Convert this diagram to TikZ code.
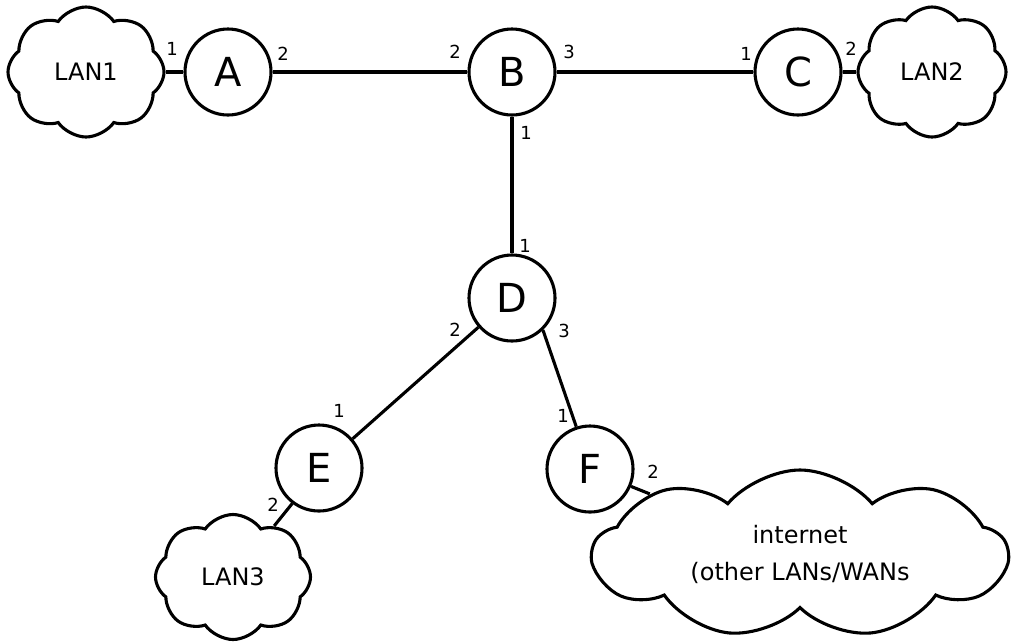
\documentclass[tikz,border=0pt]{standalone}
\usepackage{fontspec}
\setmainfont{DejaVu Sans}
\usetikzlibrary{shapes.symbols}

\begin{document}
\begin{tikzpicture}[x=1pt, y=-1pt, line width=3.1pt,
  router/.style={circle, draw, minimum size=86pt, inner sep=0pt, font=\fontsize{40}{48}\selectfont},
  lan/.style={cloud, draw, cloud puffs=8, cloud puff arc=110, cloud ignores aspect, inner sep=0pt, align=center, font=\fontsize{24}{37}\selectfont},
  port/.style={inner sep=0pt, font=\fontsize{18}{21}\selectfont}]
\useasboundingbox (0,0) rectangle (1011,641);

% routers
\node[router] (A) at (228,72) {A};
\node[router] (B) at (512,72) {B};
\node[router] (C) at (798,72) {C};
\node[router] (D) at (512,298) {D};
\node[router] (E) at (319,468) {E};
\node[router] (F) at (590,469) {F};

% networks
\node[lan, minimum width=156pt, minimum height=130pt] (lan1) at (86,72) {LAN1};
\node[lan, minimum width=148pt, minimum height=130pt] (lan2) at (932,72) {LAN2};
\node[lan, minimum width=155pt, minimum height=125pt] (lan3) at (233,577) {LAN3};
\node[lan, minimum width=414pt, minimum height=168pt, cloud puffs=9, cloud puff arc=100] (inet) at (800,554) {internet\\(other LANs/WANs};

% links
\draw (lan1) -- (A);
\draw (A) -- (B);
\draw (B) -- (C);
\draw (C) -- (lan2);
\draw (B) -- (D);
\draw (D.-139) -- (E.41);
\draw (D.-46) -- (F.108);
\draw (E.-127) -- (lan3);
\draw (F.-23) -- (inet);

% port numbers
\node[port] (a1) at (172,49) {1};
\node[port] (a2) at (283,54) {2};
\node[port] (b2) at (455,52) {2};
\node[port] (b3) at (569,52) {3};
\node[port] (b1) at (526,133) {1};
\node[port] (c1) at (746,54) {1};
\node[port] (c2) at (851,49) {2};
\node[port] (d1) at (525,246) {1};
\node[port] (d2) at (455,330) {2};
\node[port] (d3) at (564,331) {3};
\node[port] (e1) at (339,411) {1};
\node[port] (e2) at (273,505) {2};
\node[port] (f1) at (563,416) {1};
\node[port] (f2) at (653,472) {2};
\end{tikzpicture}
\end{document}
